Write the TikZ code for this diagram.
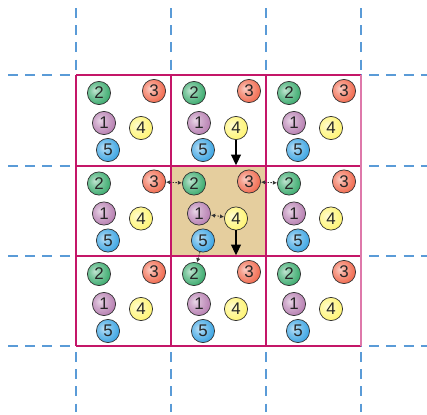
\documentclass[tikz,border=0pt]{standalone}
\usepackage{xcolor}
\definecolor{gridred}{RGB}{196,22,104}
\definecolor{gridpink}{RGB}{222,120,170}
\definecolor{guideblue}{RGB}{90,155,215}
\definecolor{cellfill}{RGB}{229,206,158}
\definecolor{ballgreen}{RGB}{45,165,100}
\definecolor{ballred}{RGB}{240,95,65}
\definecolor{ballpurple}{RGB}{178,118,172}
\definecolor{ballyellow}{RGB}{255,244,105}
\definecolor{ballblue}{RGB}{45,158,225}
\colorlet{ballcol}{gray}
\usepackage{fontspec}
\setmainfont{Liberation Sans}
\usepackage{tikz}
\usetikzlibrary{
    arrows.meta,
    positioning,
    calc
}
\pgfdeclareradialshading[ballcol]{myball}{\pgfpoint{-9bp}{6bp}}{%
    color(0bp)=(ballcol!30!white);
    color(12bp)=(ballcol!60!white);
    color(34bp)=(ballcol);
    color(54bp)=(ballcol!80!black);
    color(80bp)=(ballcol!70!black)}
\tikzset{
    bcol/.code={\colorlet{ballcol}{#1}},
    ball/.style={circle, draw=black!80, line width=0.5pt, minimum size=0.58cm,
        inner sep=0pt, shading=myball, text=black!85, font=\fontsize{12}{12}\selectfont},
    guide/.style={guideblue, line width=0.75pt, dash pattern=on 0.25cm off 0.18cm},
    gridline/.style={gridred, line width=0.9pt},
    bigarrow/.style={line width=1pt, -{Triangle[length=7.5pt, width=7pt]}},
    link/.style={black!80, line width=0.6pt, dash pattern=on 1pt off 1pt,
        {Latex[length=3pt, width=3pt]}-{Latex[length=3pt, width=3pt]}}
}

\begin{document}
\begin{tikzpicture}[x=0.025cm, y=-0.025cm]
    \useasboundingbox (0,0) rectangle (427,414);

    % highlighted cell
    \fill[cellfill] (171,166) rectangle (266,256);

    % blue guides
    \foreach \y in {75,166,256,346}
        \draw[guide] (8,\y) -- (427,\y);
    \foreach \x in {76,171,266,361}
        \draw[guide] (\x,8) -- (\x,412);

    % grid
    \draw[gridline] (76,75) -- (361,75);
    \draw[gridline] (76,166) -- (361,166);
    \draw[gridline] (76,256) -- (361,256);
    \draw[gridline] (76,346) -- (361,346);
    \draw[gridline] (76,75) -- (76,346);
    \draw[gridline] (171,75) -- (171,346);
    \draw[gridline] (266,75) -- (266,346);
    \draw[gridpink, line width=0.9pt] (361,75) -- (361,346);

    % balls in every cell
    \foreach \i in {0,1,2}{
        \foreach \j in {0,1,2}{
            \pgfmathsetmacro\cx{76+95*\i}
            \pgfmathsetmacro\cy{75+90.5*\j}
            \node[ball, bcol=ballgreen]  (b\i\j-2) at (\cx+23,\cy+18) {2};
            \node[ball, bcol=ballred]    (b\i\j-3) at (\cx+78,\cy+16) {3};
            \node[ball, bcol=ballpurple] (b\i\j-1) at (\cx+28,\cy+48) {1};
            \node[ball, bcol=ballyellow] (b\i\j-4) at (\cx+65,\cy+53) {4};
            \node[ball, bcol=ballblue]   (b\i\j-5) at (\cx+32,\cy+75) {5};
        }
    }

    % moves
    \coordinate (row1) at (0,165.2);
    \coordinate (row2) at (0,255.2);
    \draw[bigarrow] (b10-4.south) -- (b10-4.south |- row1);
    \draw[bigarrow] (b11-4.south) -- (b11-4.south |- row2);

    % interactions
    \draw[link] (b01-3) -- (b11-2);
    \draw[link] (b11-3) -- (b21-2);
    \draw[link] (b11-1) -- (b11-4);
    \draw[link, {Latex[length=3pt, width=3pt]}-] (b12-2) -- (b11-5);
\end{tikzpicture}
\end{document}
